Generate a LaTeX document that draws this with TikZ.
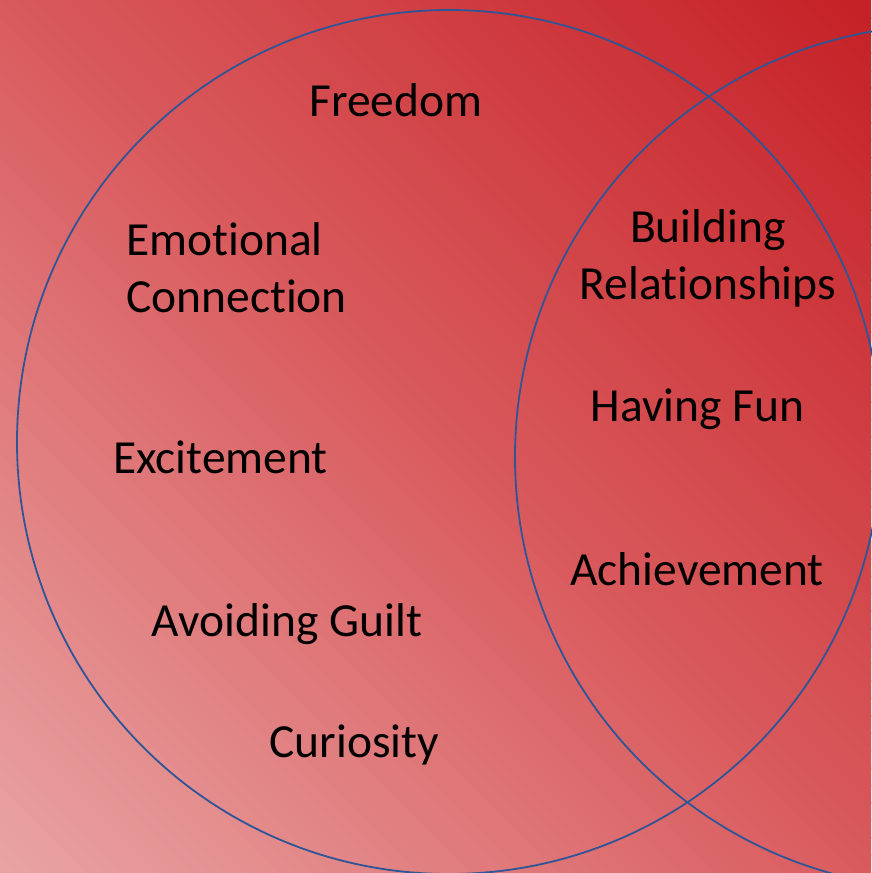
\documentclass[tikz,border=0pt]{standalone}
\usepackage{fontspec}
\setmainfont{Carlito}[Ligatures=NoCommon, RawFeature={-liga}]
\definecolor{bgA}{HTML}{C52126}
\definecolor{bgM}{HTML}{D95B5E}
\definecolor{bgB}{HTML}{E9A3A3}
\definecolor{ringblue}{HTML}{2F5597}
\tikzset{
  lbl/.style={font=\fontsize{47.5}{57}\selectfont, text=black, inner sep=0pt, anchor=base},
  lblw/.style={lbl, anchor=base west},
  ring/.style={circle, draw=ringblue, line width=1.8pt, minimum size=864pt, inner sep=0pt}
}
\begin{document}
\begin{tikzpicture}[x=1pt,y=-1pt]
\useasboundingbox (0,0) rectangle (871,873);
\begin{scope}
\clip (0,0) rectangle (871,873);
\foreach \i in {0,...,99} {
  \pgfmathsetmacro{\sa}{\i*17.44}
  \pgfmathsetmacro{\sb}{(\i+1)*17.44+1.5}
  \ifnum\i<50
    \pgfmathtruncatemacro{\pc}{100-\i*2}
    \colorlet{strip}{bgA!\pc!bgM}
  \else
    \pgfmathtruncatemacro{\pc}{100-(\i-50)*2.04}
    \colorlet{strip}{bgM!\pc!bgB}
  \fi
  \fill[strip] (771-\sa,-100) -- (1871-\sa,1000) -- (1871-\sb,1000) -- (771-\sb,-100) -- cycle;
}
\end{scope}
\node[ring] (leftc) at (449,442) {};
\node[ring] (rightc) at (947,457) {};
\node[lbl] (freedom) at (396,116) {Freedom};
\node[lblw] (emo) at (126,255) {Emotional};
\node[lblw] (conn) at (126,312) {Connection};
\node[lbl] (excite) at (220.5,473) {Excitement};
\node[lbl] (guilt) at (287,636) {Avoiding Guilt};
\node[lbl] (curio) at (354.5,757) {Curiosity};
\node[lbl] (build) at (708,242) {Building};
\node[lbl] (rel) at (708,299) {Relationships};
\node[lbl] (fun) at (697.5,421) {Having Fun};
\node[lbl] (ach) at (697,585) {Achievement};
\end{tikzpicture}
\end{document}
